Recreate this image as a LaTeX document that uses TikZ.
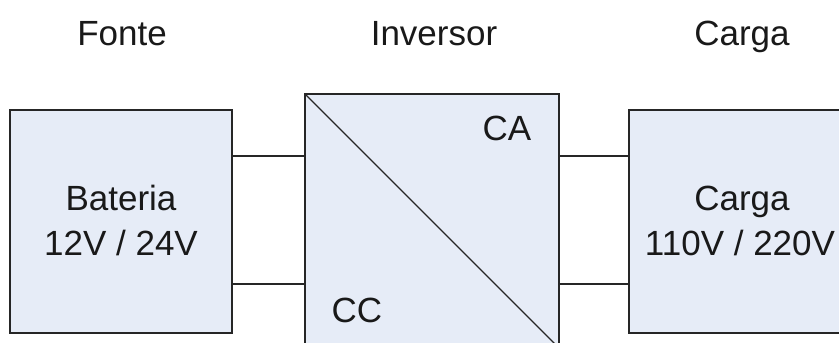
\documentclass[tikz,border=0pt]{standalone}
\usepackage{fontspec}
\setmainfont{Liberation Sans}
\begin{document}
\begin{tikzpicture}[x=1pt,y=-1pt,
  blk/.style={draw=black!85,line width=1.1pt,fill=blockfill,rectangle,inner sep=0pt},
  wire/.style={draw=black!85,line width=1.1pt},
  lbl/.style={font=\fontsize{35}{40}\selectfont,text=black!90,anchor=base,inner sep=0pt}]
\definecolor{blockfill}{HTML}{E6ECF7}
\useasboundingbox (0,0) rectangle (839,343);
\clip (0,0) rectangle (839,343);
\node[blk,minimum width=222pt,minimum height=223pt] (bat) at (121,221.5) {};
\node[blk,minimum width=254pt,minimum height=254pt] (inv) at (432,221) {};
\node[blk,minimum width=222pt,minimum height=223pt] (load) at (740,221.5) {};
\draw[wire] (inv.north west) -- (inv.south east);
\coordinate (ytop) at (0,156);
\coordinate (ybot) at (0,284);
\draw[wire] (bat.east |- ytop) -- (inv.west |- ytop);
\draw[wire] (bat.east |- ybot) -- (inv.west |- ybot);
\draw[wire] (inv.east |- ytop) -- (load.west |- ytop);
\draw[wire] (inv.east |- ybot) -- (load.west |- ybot);
\node[lbl] (t1) at (122,45) {Fonte};
\node[lbl] (t2) at (434,45) {Inversor};
\node[lbl] (t3) at (742,45) {Carga};
\node[lbl] (b1) at (121,210) {Bateria};
\node[lbl] (b2) at (121,255) {12V / 24V};
\node[lbl] (c1) at (742,210) {Carga};
\node[lbl] (c2) at (740,255) {110V / 220V};
\node[lbl] (ca) at (507,140) {CA};
\node[lbl] (cc) at (357,322) {CC};
\end{tikzpicture}
\end{document}
